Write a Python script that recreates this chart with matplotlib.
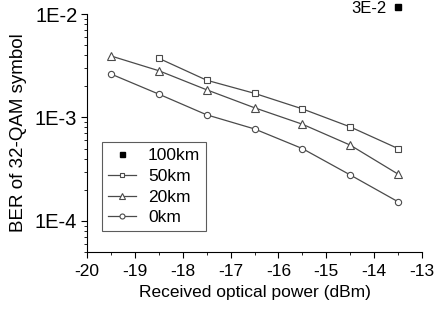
import numpy as np
import matplotlib
matplotlib.use('Agg')
import matplotlib.pyplot as plt
import matplotlib.transforms as mtransforms
from matplotlib import rcParams

# data
power = [-19.5, -18.5, -17.5, -16.5, -15.5, -14.5, -13.5]
ber_50km = [3.73e-3, 2.29e-3, 1.71e-3, 1.21e-3, 8.1e-4, 5.0e-4]
ber_20km = [3.93e-3, 2.83e-3, 1.85e-3, 1.24e-3, 8.6e-4, 5.4e-4, 2.83e-4]
ber_0km = [2.63e-3, 1.68e-3, 1.06e-3, 7.74e-4, 5.0e-4, 2.78e-4, 1.53e-4]
power_100km = [-13.5]
ber_100km_label = '3E-2'

rcParams.update({"font.family": ["Liberation Sans", "DejaVu Sans"]})

fig = plt.figure(figsize=(4.4, 3.13), dpi=100)
ax = fig.add_axes([87 / 440, 1 - 252 / 313, 335 / 440, 238 / 313])

lc = '#4a4a4a'
ax.plot(power[1:], ber_50km, '-s', color=lc, lw=0.9, ms=4, mfc='white', mec=lc, mew=0.8, label='50km')
ax.plot(power, ber_20km, '-^', color=lc, lw=0.9, ms=5.5, mfc='white', mec=lc, mew=0.8, label='20km')
ax.plot(power, ber_0km, '-o', color=lc, lw=0.9, ms=4.5, mfc='white', mec=lc, mew=0.8, label='0km')

# 100km point sits above the frame (off scale), labelled with its value
trans = mtransforms.blended_transform_factory(ax.transData, ax.transAxes)
ax.plot(power_100km, [1.03], 's', color='black', ms=4.5, transform=trans, clip_on=False, label='100km')
ax.text(power_100km[0] - 0.25, 1.024, ber_100km_label, transform=trans,
        ha='right', va='center', fontsize=12)

ax.set_yscale('log')
ax.set_ylim(5e-5, 1e-2)
ax.set_xlim(-20, -13)
ax.set_yticks([1e-4, 1e-3, 1e-2])
ax.set_yticklabels(['1E-4', '1E-3', '1E-2'], fontsize=14.5)
ax.set_xticks(np.arange(-20, -12, 1))
ax.set_xticklabels([str(v) for v in range(-20, -12)], fontsize=12.5)
ax.set_xticks(np.arange(-19.5, -13, 1), minor=True)

for s in ['top', 'right']:
    ax.spines[s].set_visible(False)
ax.tick_params(which='major', length=4, width=0.8, direction='out', pad=3)
ax.tick_params(which='minor', length=2, width=0.6, direction='out')
ax.tick_params(axis='x', pad=5)

ax.set_xlabel('Received optical power (dBm)', fontsize=12.5, labelpad=4)
ax.set_ylabel('BER of 32-QAM symbol', fontsize=13.5, labelpad=6)

handles, labels = ax.get_legend_handles_labels()
order = [3, 0, 1, 2]
leg = ax.legend([handles[i] for i in order], [labels[i] for i in order],
                loc='upper left', bbox_to_anchor=(0.045, 0.462), borderaxespad=0,
                fontsize=12.5, frameon=True, fancybox=False, edgecolor='#333333',
                handlelength=1.6, handletextpad=0.7, labelspacing=0.32,
                borderpad=0.35, markerscale=0.8)
leg.get_frame().set_linewidth(0.8)

fig.savefig('out.png', dpi=100)
